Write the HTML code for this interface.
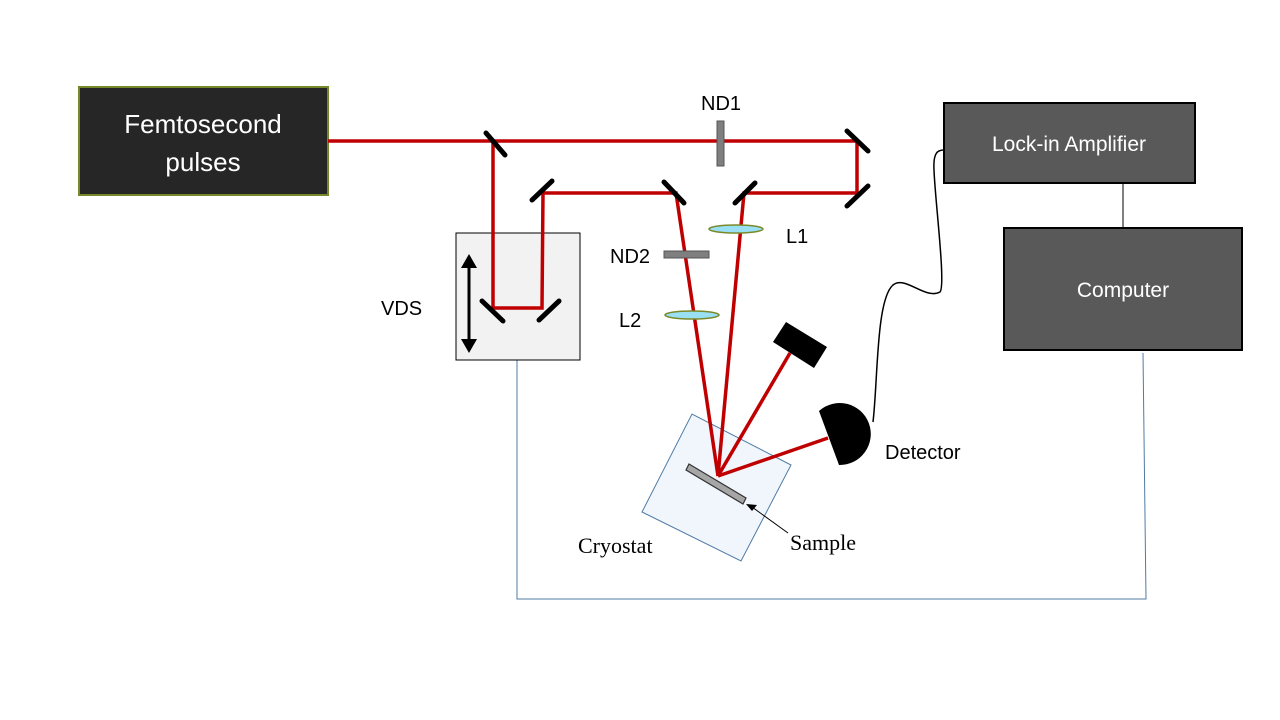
<!DOCTYPE html>
<html><head><style>html,body{margin:0;padding:0;background:#fff}svg{display:block}</style></head>
<body>
<svg width="1280" height="720" viewBox="0 0 1280 720" xmlns="http://www.w3.org/2000/svg" font-family="'Liberation Sans', sans-serif">
<rect x="79" y="87" width="249" height="108" fill="#262626" stroke="#76892a" stroke-width="2"/>
<text x="203" y="133" fill="#fff" font-size="26" text-anchor="middle">Femtosecond</text>
<text x="203" y="171" fill="#fff" font-size="26" text-anchor="middle">pulses</text>
<rect x="944" y="103" width="251" height="80" fill="#595959" stroke="#000" stroke-width="2"/>
<text x="1069" y="151" fill="#fff" font-size="21" text-anchor="middle">Lock-in Amplifier</text>
<rect x="1004" y="228" width="238" height="122" fill="#595959" stroke="#000" stroke-width="2"/>
<text x="1123" y="297" fill="#fff" font-size="21" text-anchor="middle">Computer</text>
<line x1="1123" y1="183" x2="1123" y2="228" stroke="#000" stroke-width="1"/>
<polyline points="517,360 517,599 1146,599 1143,353" fill="none" stroke="#4f7ba6" stroke-width="1"/>
<rect x="456" y="233" width="124" height="127" fill="#f2f2f2" stroke="#000" stroke-width="1"/>
<line x1="469" y1="262" x2="469" y2="345" stroke="#000" stroke-width="3"/>
<polygon points="469,254 461,268 477,268" fill="#000"/>
<polygon points="469,353 461,339 477,339" fill="#000"/>
<text x="381" y="315" font-size="20">VDS</text>
<polygon points="642,512 692,414 791,465 741,561" fill="#f0f6fb" stroke="#4f7ba6" stroke-width="1"/>
<g fill="none" stroke="#c00000" stroke-width="3.5">
<polyline points="328,141 857,141 857,193 744,193 718,476"/>
<polyline points="493,141 493,308 542,308 543,193 676,193 718,476"/>
<line x1="718" y1="476" x2="790" y2="353"/>
<line x1="718" y1="476" x2="828" y2="438"/>
</g>
<g stroke="#000" stroke-width="5" stroke-linecap="round">
<line x1="486" y1="133" x2="505" y2="155"/>
<line x1="532" y1="200" x2="552" y2="181"/>
<line x1="664" y1="182" x2="684" y2="203"/>
<line x1="735" y1="203" x2="755" y2="183"/>
<line x1="847" y1="131" x2="868" y2="151"/>
<line x1="847" y1="206" x2="868" y2="186"/>
<line x1="482" y1="301" x2="503" y2="321"/>
<line x1="539" y1="320" x2="559" y2="301"/>
</g>
<rect x="717" y="121" width="7" height="45" fill="#7f7f7f" stroke="#555" stroke-width="1"/>
<rect x="664" y="251" width="45" height="7" fill="#7f7f7f" stroke="#555" stroke-width="1"/>
<ellipse cx="736" cy="229" rx="27" ry="4" fill="#9ae0f4" stroke="#7a8a2a" stroke-width="1.5"/>
<ellipse cx="692" cy="315" rx="27" ry="4" fill="#9ae0f4" stroke="#7a8a2a" stroke-width="1.5"/>
<text x="701" y="110" font-size="20">ND1</text>
<text x="610" y="263" font-size="20">ND2</text>
<text x="786" y="243" font-size="20">L1</text>
<text x="619" y="327" font-size="20">L2</text>
<polygon points="786,322 827,347 814,368 773,342" fill="#000"/>
<path d="M819,411 A31,31 0 1 1 839,465 Z" fill="#000"/>
<text x="885" y="459" font-size="20">Detector</text>
<path d="M873,422 C878,380 876,300 893,285 C905,275 925,300 940,292 C946,285 935,200 934,170 C933,152 938,150 944,150" fill="none" stroke="#000" stroke-width="1.5"/>
<polygon points="689,464 746,498 743,504 686,470" fill="#a6a6a6" stroke="#333" stroke-width="1.2"/>
<line x1="788" y1="533" x2="752" y2="507" stroke="#000" stroke-width="1"/>
<polygon points="746,504 757,505 752,511" fill="#000"/>
<text x="578" y="553" font-size="22" font-family="'Liberation Serif', serif">Cryostat</text>
<text x="790" y="550" font-size="22" font-family="'Liberation Serif', serif">Sample</text>
</svg>
</body></html>
